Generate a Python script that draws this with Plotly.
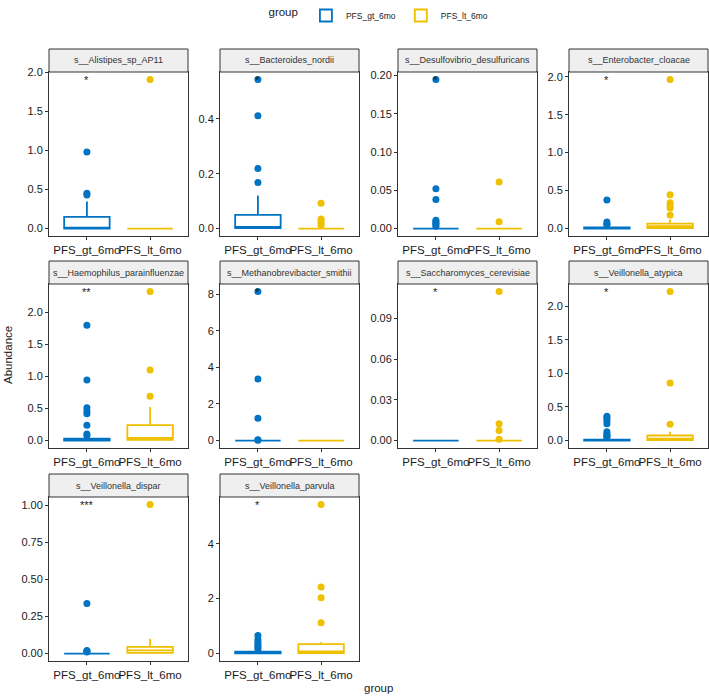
import plotly.graph_objects as go

groups = ["PFS_gt_6mo", "PFS_lt_6mo"]
species = ["s__Alistipes_sp_AP11", "s__Bacteroides_nordii", "s__Desulfovibrio_desulfuricans",
           "s__Enterobacter_cloacae", "s__Haemophilus_parainfluenzae", "s__Methanobrevibacter_smithii",
           "s__Saccharomyces_cerevisiae", "s__Veillonella_atypica", "s__Veillonella_dispar",
           "s__Veillonella_parvula"]
stars = ["*", "*", "*", "*", "**", "*", "*", "*", "***", "*"]

# box stats: [q1, median, q3, lower whisker, upper whisker]
gt_box = [[0.0, 0.005, 0.15, 0.0, 0.345],
          [0.002, 0.006, 0.05, 0.0, 0.121],
          [0, 0, 0, 0, 0],
          [0.0, 0.004, 0.015, 0.0, 0.035],
          [0.0, 0.005, 0.03, 0.0, 0.07],
          [0, 0, 0, 0, 0],
          [0, 0, 0, 0, 0],
          [0.0, 0.003, 0.015, 0.0, 0.035],
          [0, 0, 0, 0, 0],
          [0.01, 0.03, 0.07, 0.0, 0.14]]
lt_box = [[0, 0, 0, 0, 0],
          [0, 0, 0, 0, 0],
          [0, 0, 0, 0, 0],
          [0.005, 0.03, 0.066, 0.0, 0.12],
          [0.01, 0.04, 0.24, 0.0, 0.525],
          [0, 0, 0, 0, 0],
          [0, 0, 0, 0, 0],
          [0.005, 0.03, 0.075, 0.0, 0.13],
          [0.005, 0.022, 0.045, 0.0, 0.10],
          [0.02, 0.08, 0.34, 0.0, 0.41]]
gt_out = [[0.43, 0.45, 0.98],
          [0.168, 0.219, 0.412, 0.544],
          [0.003, 0.005, 0.007, 0.009, 0.011, 0.038, 0.052, 0.195],
          [0.05, 0.06, 0.085, 0.375],
          [0.08, 0.104, 0.24, 0.42, 0.46, 0.51, 0.946, 1.80],
          [0.02, 0.05, 1.22, 3.36, 8.15],
          [],
          [0.045, 0.06, 0.08, 0.10, 0.13, 0.25, 0.30, 0.33, 0.36],
          [0.01, 0.015, 0.02, 0.337],
          [0.17, 0.22, 0.28, 0.35, 0.42, 0.50, 0.66]]
lt_out = [[1.906],
          [0.012, 0.02, 0.028, 0.035, 0.092],
          [0.0088, 0.061],
          [0.18, 0.27, 0.30, 0.34, 0.445, 1.964],
          [0.69, 1.10, 2.327],
          [],
          [0.001, 0.0074, 0.0123, 0.110],
          [0.243, 0.855, 2.218],
          [1.005],
          [1.12, 2.03, 2.42, 5.43]]

# axis tick settings per panel
y_dtick = [0.5, 0.2, 0.05, 0.5, 0.5, 2, 0.03, 0.5, 0.25, 2]
y_fmt = [".1f", ".1f", ".2f", ".1f", ".1f", "d", ".2f", ".1f", ".2f", "d"]

colors = ["#0073C2", "#EFC000"]
W, H = 709, 697
col_px = [(49, 188), (220, 359), (398, 537), (569, 708)]
row_px = [(72, 236), (284, 448), (497, 661)]
strip_h = 23
FONT = "Liberation Sans, Arial, sans-serif"

fig = go.Figure()
layout = dict(width=W, height=H, margin=dict(l=0, r=0, t=0, b=0, autoexpand=False),
              plot_bgcolor="white", paper_bgcolor="white",
              font=dict(family=FONT, color="#1a1a1a"), showlegend=True)
shapes, annotations = [], []

for i, sp in enumerate(species):
    r, c = divmod(i, 4)
    n = i + 1
    xa = "x" if n == 1 else f"x{n}"
    ya = "y" if n == 1 else f"y{n}"
    xd = [col_px[c][0] / W, col_px[c][1] / W]
    yd = [1 - row_px[r][1] / H, 1 - row_px[r][0] / H]
    allv = [0.0] + gt_box[i] + lt_box[i] + gt_out[i] + lt_out[i]
    vmin, vmax = min(allv), max(allv)
    R = vmax - vmin
    yr = [vmin - 0.05 * R, vmax + 0.05 * R]

    for g in range(2):
        b = gt_box[i] if g == 0 else lt_box[i]
        fig.add_trace(go.Box(
            x=[groups[g]], q1=[b[0]], median=[b[1]], q3=[b[2]],
            lowerfence=[b[3]], upperfence=[b[4]],
            boxpoints=False, width=0.72, whiskerwidth=0,
            fillcolor="white", line=dict(color=colors[g], width=1.8),
            name=groups[g], legendgroup=groups[g], showlegend=(i == 0),
            xaxis=xa, yaxis=ya, hoverinfo="skip"))
        outs = gt_out[i] if g == 0 else lt_out[i]
        if outs:
            fig.add_trace(go.Scatter(
                x=[groups[g]] * len(outs), y=outs, mode="markers",
                marker=dict(color=colors[g], size=7),
                showlegend=False, legendgroup=groups[g],
                xaxis=xa, yaxis=ya, hoverinfo="skip"))

    axn = "xaxis" if n == 1 else f"xaxis{n}"
    ayn = "yaxis" if n == 1 else f"yaxis{n}"
    layout[axn] = dict(domain=xd, anchor=ya, type="category",
                       categoryorder="array", categoryarray=groups,
                       range=[-0.6, 1.6], showgrid=False, zeroline=False, automargin=False,
                       showline=True, mirror=True, linecolor="#333333", linewidth=1,
                       ticks="outside", ticklen=3, tickcolor="#333333", tickangle=0,
                       tickfont=dict(size=11.5, color="#1a1a1a"))
    layout[ayn] = dict(domain=yd, anchor=xa, range=yr, dtick=y_dtick[i], tick0=0,
                       tickformat=y_fmt[i], showgrid=False, zeroline=False, automargin=False,
                       showline=True, mirror=True, linecolor="#333333", linewidth=1,
                       ticks="outside", ticklen=3, tickcolor="#333333",
                       tickfont=dict(size=11, color="#1a1a1a"))

    # strip
    sy0 = 1 - row_px[r][0] / H
    sy1 = 1 - (row_px[r][0] - strip_h) / H
    shapes.append(dict(type="rect", xref="paper", yref="paper",
                       x0=xd[0], x1=xd[1], y0=sy0, y1=sy1,
                       fillcolor="#EFEFEF", line=dict(color="#333333", width=1)))
    annotations.append(dict(text=sp, xref="paper", yref="paper",
                            x=(xd[0] + xd[1]) / 2, y=(sy0 + sy1) / 2,
                            xanchor="center", yanchor="middle", showarrow=False,
                            font=dict(size=9, color="#333333")))
    # significance stars
    annotations.append(dict(text=stars[i], xref=xa, yref=ya, x=groups[0], y=yr[1],
                            xanchor="center", yanchor="top", showarrow=False,
                            font=dict(size=11, color="#1a1a1a")))

# axis titles
annotations.append(dict(text="group", xref="paper", yref="paper",
                        x=(49 + 708) / 2 / W, y=1 - 688 / H, xanchor="center", yanchor="middle",
                        showarrow=False, font=dict(size=11.5, color="#1a1a1a")))
annotations.append(dict(text="Abundance", xref="paper", yref="paper",
                        x=8 / W, y=1 - 355 / H, xanchor="center", yanchor="middle",
                        textangle=-90, showarrow=False, font=dict(size=11.5, color="#1a1a1a")))

layout["shapes"] = shapes
layout["annotations"] = annotations
layout["legend"] = dict(orientation="h", x=380 / W, xanchor="center", y=1 - 1 / H, yanchor="top",
                        title=dict(text="group", side="left", font=dict(size=11.5)),
                        font=dict(size=8.5), itemwidth=30, bgcolor="rgba(0,0,0,0)")
fig.update_layout(**layout)
fig.write_html("out.html", config={"displayModeBar": False},
               post_script="document.body.style.margin='0';document.body.style.overflow='hidden';")
